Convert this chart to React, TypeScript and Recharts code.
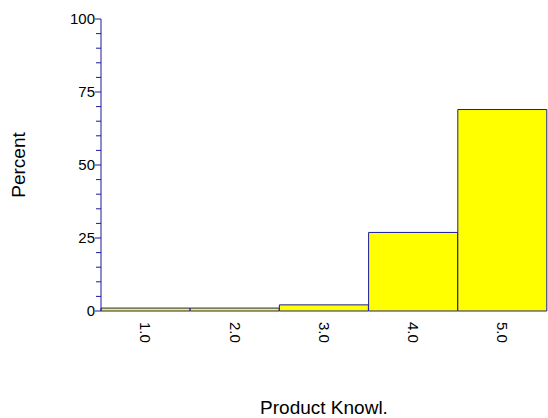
import React from 'react';
import { BarChart, Bar, XAxis, YAxis, Label } from 'recharts';

const categories = ['1.0', '2.0', '3.0', '4.0', '5.0'];
const percents = [1.0, 1.0, 2.1, 26.9, 69.0];
const yTicks = [0, 5, 10, 15, 20, 25, 30, 35, 40, 45, 50, 55, 60, 65, 70, 75, 80, 85, 90, 95, 100];
const majorTicks = [0, 25, 50, 75, 100];

const data = categories.map((c, i) => ({ name: c, value: percents[i] }));

const AXIS = '#1a1a9c';
const FONT = 'Arial, "Liberation Sans", sans-serif';

const YTick = (props: any) => {
  const { x, y, payload } = props;
  const axisX = x + 8;
  const major = majorTicks.includes(payload.value);
  return (
    <g>
      <line x1={axisX - (major ? 6 : 5)} y1={y} x2={axisX} y2={y} stroke={AXIS} strokeWidth={1} />
      {major && (
        <text x={axisX - 6} y={y} dy="0.35em" textAnchor="end" fontSize={15} fill="#000" fontFamily={FONT}>
          {payload.value}
        </text>
      )}
    </g>
  );
};

const XTick = (props: any) => {
  const { x, y, payload } = props;
  return (
    <g transform={`translate(${x},${y + 3})`}>
      <text transform="rotate(90)" x={0} y={0} dy="0.35em" textAnchor="start" fontSize={15} fill="#000" fontFamily={FONT}>
        {payload.value}
      </text>
    </g>
  );
};

export default function App() {
  return (
    <div style={{ position: 'absolute', left: 0, top: 0, width: 548, height: 418, background: '#fff' }}>
      <BarChart
        width={548}
        height={418}
        data={data}
        barCategoryGap={0}
        margin={{ top: 19, right: 1, bottom: 0, left: 1 }}
      >
        <XAxis
          dataKey="name"
          axisLine={false}
          tickLine={false}
          tick={<XTick />}
          height={107}
          interval={0}
        >
          <Label
            content={(p: any) => {
              const vb = p.viewBox;
              return (
                <text x={vb.x + vb.width / 2} y={414} textAnchor="middle" fontSize={19} fontFamily={FONT} fill="#000">
                  Product Knowl.
                </text>
              );
            }}
          />
        </XAxis>
        <YAxis
          domain={[0, 100]}
          ticks={yTicks}
          interval={0}
          width={100}
          axisLine={{ stroke: AXIS }}
          tickLine={false}
          tick={<YTick />}
        >
          <Label
            content={(p: any) => {
              const vb = p.viewBox;
              const cy = vb.y + vb.height / 2;
              return (
                <text x={25} y={cy} transform={`rotate(-90, 25, ${cy})`} textAnchor="middle" fontSize={19} fontFamily={FONT} fill="#000">
                  Percent
                </text>
              );
            }}
          />
        </YAxis>
        <Bar dataKey="value" fill="#ffff00" stroke="#1a1aa0" strokeWidth={1} isAnimationActive={false} />
      </BarChart>
    </div>
  );
}
